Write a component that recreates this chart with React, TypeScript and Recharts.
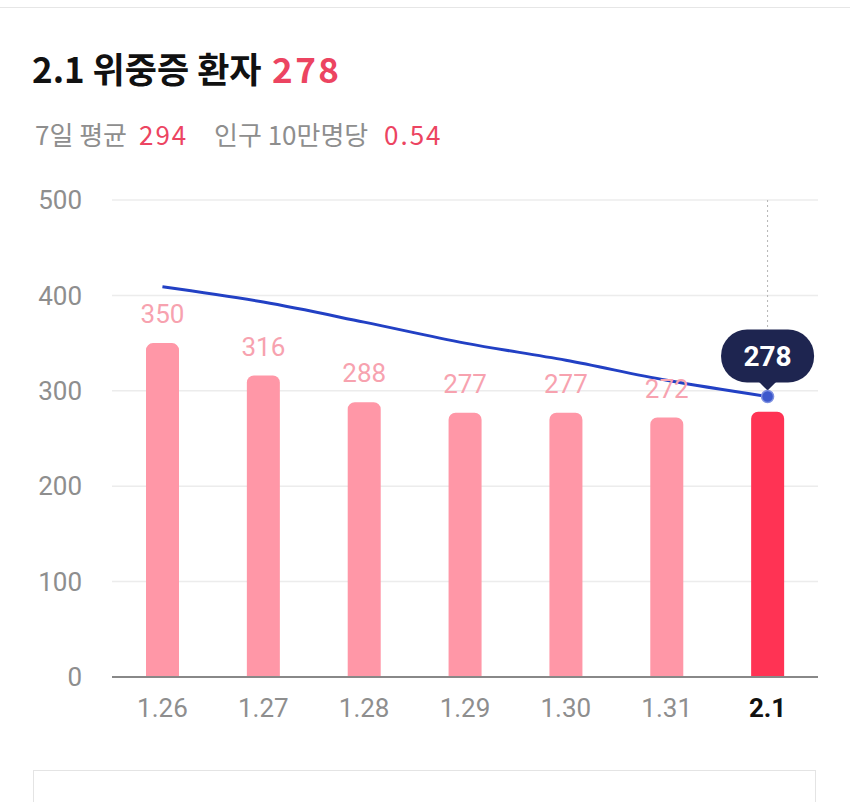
import React from 'react';
import {
  ComposedChart,
  Bar,
  Line,
  XAxis,
  YAxis,
  CartesianGrid,
  LabelList,
  Cell,
  ReferenceLine
} from 'recharts';

// daily values
const dates = ['1.26', '1.27', '1.28', '1.29', '1.30', '1.31', '2.1'];
const patients = [350, 316, 288, 277, 277, 272, 278];
const weeklyAvg = [409, 393, 372, 350, 332, 311, 294];
const yTicks = [0, 100, 200, 300, 400, 500];

const RED = '#EC4461';
const GRAY = '#8E8E8E';
const KR_FONT = '"Noto Sans CJK KR", "Noto Sans", sans-serif';
const NUM_FONT = 'Roboto, "Noto Sans CJK KR", sans-serif';

const data = dates.map((d, i) => ({
  date: d,
  patients: patients[i],
  avg: weeklyAvg[i]
}));

const lastIndex = data.length - 1;

/**
 * Bar value label, skipped for the last day (shown in the bubble instead)
 */
const BarValueLabel: React.FC<any> = ({ x, y, width, value, index }) => {
  if (index === lastIndex) return null;
  return (
    <text
      x={x + width / 2}
      y={y - 20}
      textAnchor="middle"
      fill="#F7A2AF"
      fontSize={26}
      fontFamily={NUM_FONT}
    >
      {value}
    </text>
  );
};

/**
 * X axis tick, last date bold
 */
const DateTick: React.FC<any> = ({ x, y, payload, index }) => {
  const isLast = index === lastIndex;
  return (
    <text
      x={x}
      y={y}
      dy="0.71em"
      textAnchor="middle"
      fill={isLast ? '#111' : GRAY}
      fontWeight={isLast ? 700 : 400}
      fontSize={26}
      fontFamily={NUM_FONT}
    >
      {payload.value}
    </text>
  );
};

/**
 * Dot + value bubble on the latest point only
 */
const LastDot: React.FC<any> = ({ cx, cy, index }) => {
  if (index !== lastIndex || cx == null) return null;
  const w = 93;
  const h = 53;
  const bottom = cy - 14;
  const top = bottom - h;
  return (
    <g>
      <rect x={cx - w / 2} y={top} width={w} height={h} rx={26} fill="#1E2550" />
      <path d={`M${cx - 9},${bottom - 1} L${cx},${bottom + 8} L${cx + 9},${bottom - 1} Z`} fill="#1E2550" />
      <text
        x={cx}
        y={top + h / 2 + 10}
        textAnchor="middle"
        fill="#fff"
        fontSize={28}
        fontWeight={700}
        fontFamily={NUM_FONT}
      >
        {patients[lastIndex]}
      </text>
      <circle cx={cx} cy={cy} r={6} fill="#3C58CC" stroke="#7D90E0" strokeWidth={1.5} />
    </g>
  );
};

const abs = (left: number, top: number): React.CSSProperties => ({
  position: 'absolute',
  left,
  top,
  whiteSpace: 'nowrap'
});

const App: React.FC = () => {
  return (
    <div
      style={{
        position: 'absolute',
        left: 0,
        top: 0,
        width: 850,
        height: 802,
        background: '#fff',
        overflow: 'hidden'
      }}
    >
      <div style={{ position: 'absolute', left: 0, top: 7, width: 850, height: 1, background: '#e6e6e6' }} />

      {/* title */}
      <div style={{ fontFamily: KR_FONT, fontSize: 35, lineHeight: '44px', fontWeight: 700 }}>
        <span style={{ ...abs(32, 46), color: '#111' }}>2.1 위중증 환자</span>
        <span style={{ ...abs(272, 46), color: RED, letterSpacing: 2.5 }}>278</span>
      </div>

      {/* subtitle */}
      <div style={{ fontFamily: KR_FONT, fontSize: 26, lineHeight: '36px', color: GRAY }}>
        <span style={abs(35, 116)}>7일 평균</span>
        <span style={{ ...abs(139, 116), color: RED, letterSpacing: 2 }}>294</span>
        <span style={abs(214, 116)}>인구 10만명당</span>
        <span style={{ ...abs(384, 116), color: RED, letterSpacing: 2 }}>0.54</span>
      </div>

      <div style={{ position: 'absolute', left: 0, top: 170 }}>
        <ComposedChart
          width={850}
          height={580}
          data={data}
          margin={{ top: 30, right: 32, left: 0, bottom: 0 }}
        >
          <CartesianGrid vertical={false} stroke="#ececec" strokeWidth={1.5} />
          <XAxis
            dataKey="date"
            height={73}
            axisLine={{ stroke: '#888', strokeWidth: 2 }}
            tickLine={false}
            tickMargin={16}
            tick={<DateTick />}
            interval={0}
          />
          <YAxis
            width={112}
            domain={[0, 500]}
            ticks={yTicks}
            axisLine={false}
            tickLine={false}
            tickMargin={24}
            tick={{ fill: GRAY, fontSize: 26, fontFamily: NUM_FONT }}
          />
          <ReferenceLine
            segment={[
              { x: '2.1', y: 500 },
              { x: '2.1', y: weeklyAvg[lastIndex] }
            ]}
            stroke="#b5b5b5"
            strokeDasharray="2 3"
          />
          <Bar dataKey="patients" barSize={33} radius={[7, 7, 0, 0]} isAnimationActive={false}>
            {data.map((entry, index) => (
              <Cell key={`cell-${index}`} fill={index === lastIndex ? '#FF3354' : '#FF97A7'} />
            ))}
            <LabelList dataKey="patients" content={<BarValueLabel />} />
          </Bar>
          <Line
            type="monotone"
            dataKey="avg"
            stroke="#2240C4"
            strokeWidth={3}
            dot={<LastDot />}
            activeDot={false}
            isAnimationActive={false}
          />
        </ComposedChart>
      </div>

      <div
        style={{
          position: 'absolute',
          left: 33,
          top: 770,
          width: 783,
          height: 40,
          border: '1.5px solid #e4e4e4',
          boxSizing: 'border-box'
        }}
      />
    </div>
  );
};

export default App;
